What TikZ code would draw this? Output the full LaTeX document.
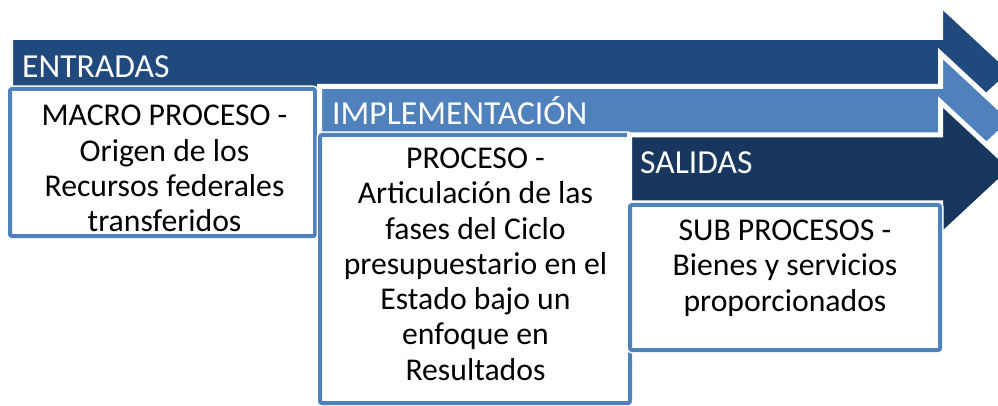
\documentclass[tikz,border=0pt]{standalone}
\usepackage{fontspec}
\setmainfont{Carlito}
\definecolor{azulosc}{RGB}{32, 73, 125}
\definecolor{azulmed}{RGB}{79, 129, 189}
\definecolor{azulnoche}{RGB}{24, 55, 94}
\tikzset{
  flecha/.style={draw=white, line width=5pt, line join=miter},
  caja/.style={draw=azulmed, fill=white, line width=4pt, rounded corners=2pt, inner sep=0pt,
    preaction={draw=white, line width=7pt}},
  etiqueta/.style={text=white, font=\fontsize{33.6}{40}\selectfont, anchor=base west, inner sep=0pt},
  texto/.style={font=\fontsize{31.7}{35.3}\selectfont, align=center, anchor=north, inner sep=0pt}
}

\begin{document}
\begin{tikzpicture}[x=1pt, y=-1pt]
  \useasboundingbox (0,0) rectangle (998,406);
  \clip (0,0) rectangle (998,406);

  % ENTRADAS
  \filldraw[flecha, fill=azulosc] (10.5,37.5) -- (940.5,37.5) -- (940.5,4.5) -- (1012.5,71.5)
    -- (940.5,138.5) -- (940.5,105.5) -- (10.5,105.5) -- cycle;
  \node[etiqueta] (entradas) at (22,78) {ENTRADAS};
  \node[caja, minimum width=305, minimum height=147] (macro) at (162.5,162.5) {};
  \node[texto] (macrotxt) at (164.5,105.2) {MACRO PROCESO -\\Origen de los\\Recursos federales\\transferidos};

  % IMPLEMENTACION
  \filldraw[flecha, fill=azulmed] (319.5,86.5) -- (940.5,86.5) -- (940.5,53.5) -- (1012.5,120.5)
    -- (940.5,187.5) -- (940.5,154.5) -- (319.5,154.5) -- cycle;
  \node[etiqueta] (implem) at (332,125) {IMPLEMENTACIÓN};
  \node[caja, minimum width=310, minimum height=268] (proceso) at (475,269) {};
  \node[texto] (procesotxt) at (475.5,147.7) {PROCESO -\\Articulación de las\\fases del Ciclo\\presupuestario en el\\Estado bajo un\\enfoque en\\Resultados};

  % SALIDAS
  \filldraw[flecha, fill=azulnoche] (629.5,135) -- (940.5,135) -- (940.5,102) -- (1012.5,169)
    -- (940.5,236) -- (940.5,203) -- (629.5,203) -- cycle;
  \node[etiqueta] (salidas) at (640,174) {SALIDAS};
  \node[caja, minimum width=310, minimum height=145] (subproc) at (785,277.5) {};
  \node[texto] (subproctxt) at (785,219.7) {SUB PROCESOS -\\Bienes y servicios\\proporcionados};
\end{tikzpicture}
\end{document}
